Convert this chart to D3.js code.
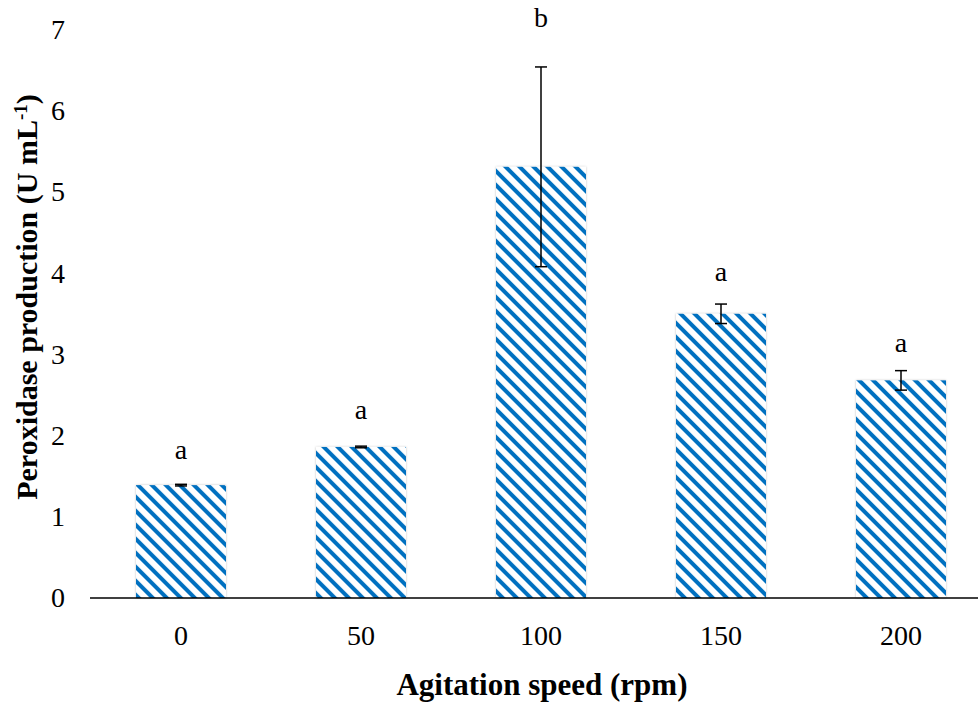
<!DOCTYPE html>
<html>
<head>
<meta charset="utf-8">
<script src="https://cdn.jsdelivr.net/npm/d3@7"></script>
<style>
  body { margin: 0; background: #fff; }
  svg { display: block; font-family: "Liberation Serif", "DejaVu Serif", serif; }
</style>
</head>
<body>
<svg id="chart" width="978" height="710"></svg>
<script>
// data
const speeds = ['0', '50', '100', '150', '200'];
const production = [1.39, 1.86, 5.31, 3.5, 2.68];
const errors = [0.01, 0.01, 1.23, 0.12, 0.12];
const groupLetters = ['a', 'a', 'b', 'a', 'a'];
const letterLevel = [1.82, 2.32, 7.14, 4.01, 3.14];
const yTicks = [0, 1, 2, 3, 4, 5, 6, 7];

const fontFamily = '"Liberation Serif", "DejaVu Serif", serif';
const svg = d3.select('#chart');
const margin = { top: 29.6, left: 91, bottom: 598 };

const x = d3
  .scaleBand()
  .domain(speeds)
  .range([margin.left, 991])
  .paddingInner(0.5)
  .paddingOuter(0.25);
const y = d3.scaleLinear().domain([0, 7]).range([margin.bottom, margin.top]);

// hatch pattern, like excel's wide downward diagonal
const defs = svg.append('defs');
const pattern = defs
  .append('pattern')
  .attr('id', 'hatch')
  .attr('patternUnits', 'userSpaceOnUse')
  .attr('width', 9.9)
  .attr('height', 9.9)
  .attr('patternTransform', 'rotate(-45)');
pattern.append('rect').attr('width', 9.9).attr('height', 9.9).attr('fill', '#fff');
pattern.append('rect').attr('width', 4).attr('height', 9.9).attr('fill', '#0070c0');

const shadow = defs.append('filter').attr('id', 'shadow').attr('x', '-10%').attr('y', '-10%').attr('width', '120%').attr('height', '120%');
shadow
  .append('feDropShadow')
  .attr('dx', 0)
  .attr('dy', 0)
  .attr('stdDeviation', 1.2)
  .attr('flood-color', '#000')
  .attr('flood-opacity', 0.25);

const rows = speeds.map((s, i) => ({
  speed: s,
  value: production[i],
  err: errors[i],
  letter: groupLetters[i],
  letterAt: letterLevel[i]
}));

// bars
svg
  .append('g')
  .selectAll('rect')
  .data(rows)
  .join('rect')
  .attr('x', d => x(d.speed))
  .attr('y', d => y(d.value))
  .attr('width', x.bandwidth())
  .attr('height', d => y(0) - y(d.value))
  .attr('fill', 'url(#hatch)')
  .attr('filter', 'url(#shadow)');

// baseline
svg
  .append('line')
  .attr('x1', margin.left - 1)
  .attr('x2', 978)
  .attr('y1', y(0))
  .attr('y2', y(0))
  .attr('stroke', '#000')
  .attr('stroke-width', 1.5);

// error bars
const errG = svg
  .append('g')
  .selectAll('g')
  .data(rows)
  .join('g')
  .attr('stroke', '#000')
  .attr('stroke-width', 1.5);
const cx = d => x(d.speed) + x.bandwidth() / 2;
errG
  .append('line')
  .attr('x1', cx)
  .attr('x2', cx)
  .attr('y1', d => y(d.value + d.err))
  .attr('y2', d => y(d.value - d.err));
[1, -1].forEach(sign => {
  errG
    .append('line')
    .attr('x1', d => cx(d) - 6)
    .attr('x2', d => cx(d) + 6)
    .attr('y1', d => y(d.value + sign * d.err))
    .attr('y2', d => y(d.value + sign * d.err));
});

// significance letters
svg
  .append('g')
  .selectAll('text')
  .data(rows)
  .join('text')
  .attr('x', cx)
  .attr('y', d => y(d.letterAt))
  .attr('dy', '0.32em')
  .attr('text-anchor', 'middle')
  .attr('font-size', 28)
  .text(d => d.letter);

// axes
const xAxis = svg
  .append('g')
  .attr('transform', `translate(0,${y(0)})`)
  .call(d3.axisBottom(x).tickSize(0).tickPadding(27));
xAxis.select('.domain').remove();

const yAxis = svg
  .append('g')
  .attr('transform', `translate(${margin.left},0)`)
  .call(d3.axisLeft(y).tickValues(yTicks).tickFormat(d3.format('d')).tickSize(0).tickPadding(26));
yAxis.select('.domain').remove();

svg
  .selectAll('.tick text')
  .attr('font-family', fontFamily)
  .attr('font-size', 28)
  .attr('fill', '#000');

// titles
svg
  .append('text')
  .attr('x', 542)
  .attr('y', 695)
  .attr('text-anchor', 'middle')
  .attr('font-size', 31)
  .attr('font-weight', 'bold')
  .text('Agitation speed (rpm)');

const yTitle = svg
  .append('text')
  .attr('transform', 'translate(37,297) rotate(-90)')
  .attr('text-anchor', 'middle')
  .attr('font-size', 30)
  .attr('font-weight', 'bold');
yTitle.append('tspan').text('Peroxidase production (U mL');
yTitle.append('tspan').attr('baseline-shift', 'super').attr('font-size', 19).text('-1');
yTitle.append('tspan').text(')');
</script>
</body>
</html>
